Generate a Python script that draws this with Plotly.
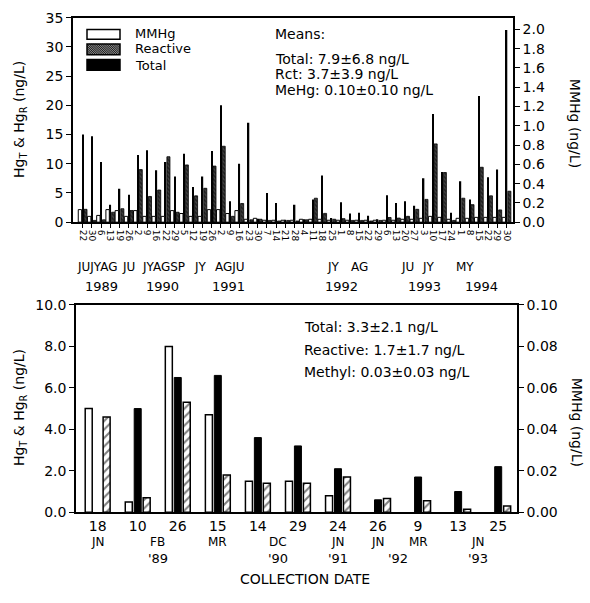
import plotly.graph_objects as go

# ---------------- DATA ----------------
# Top panel: 47 collection dates 1989-1994
top_days = ["22","30","6","13","19","26","2","9","16","22","29","5","12","19","26","2","9","16","23","30",
            "7","14","21","28","4","11","18","25","1","8","15","22","29","6","13","20","27","3","10","17",
            "24","1","8","15","22","29","30"]
top_total = [15.0,14.7,10.3,3.0,5.7,4.7,11.5,12.3,8.9,10.3,7.8,11.7,6.0,7.8,12.2,20.0,3.6,10.0,17.0,0.6,
             5.0,3.3,0.4,3.0,0.5,3.9,8.0,0.7,3.4,1.5,1.6,1.1,0.5,4.6,3.3,3.6,2.8,7.5,18.5,8.6,
             1.6,7.0,3.9,21.6,7.7,9.0,32.9]
top_reactive = [2.2,0.3,0.4,1.7,2.3,2.0,9.0,4.4,5.5,11.2,1.7,9.8,4.5,5.8,9.6,13.0,1.0,3.2,0.4,0.5,
                0.3,0.2,0.3,0.2,0.4,4.1,1.5,0.5,0.6,0.3,0.3,0.2,0.3,0.8,0.7,1.0,2.2,3.9,13.4,8.5,
                0.3,4.1,3.0,9.4,4.5,2.1,5.3]
top_mmhg = [0.13,0.06,0.07,0.13,0.12,0.06,0.12,0.06,0.06,0.06,0.12,0.09,0.06,0.06,0.13,0.13,0.09,0.12,0.03,0.04,
            0.02,0.02,0.02,0.02,0.03,0.03,0.03,0.02,0.02,0.02,0.02,0.02,0.02,0.02,0.02,0.03,0.03,0.04,0.06,0.05,
            0.03,0.04,0.04,0.05,0.05,0.05,0.05]
top_month_labels = ["JUJYAG", "JU", "JYAGSP", "JY", "AGJU", "JY", "AG", "JU", "JY", "MY"]
top_month_pos = [1.6, 5.0, 8.8, 12.8, 16.0, 27.2, 30.0, 35.2, 37.5, 41.5]
top_year_labels = ["1989", "1990", "1991", "1992", "1993", "1994"]
top_year_pos = [2.0, 8.7, 15.8, 28.1, 37.1, 43.3]
top_means = ["Means:", "Total: 7.9±6.8 ng/L", "Rct: 3.7±3.9 ng/L", "MeHg: 0.10±0.10 ng/L"]

# Bottom panel: 11 collection dates 1989-1993
bot_days = ["18", "10", "26", "15", "14", "29", "24", "26", "9", "13", "25"]
bot_mmhg = [0.050, 0.005, 0.080, 0.047, 0.015, 0.015, 0.008, None, None, None, None]
bot_total = [None, 5.0, 6.5, 6.6, 3.6, 3.2, 2.1, 0.6, 1.7, 1.0, 2.2]
bot_reactive = [4.6, 0.7, 5.3, 1.8, 1.4, 1.4, 1.7, 0.66, 0.56, 0.15, 0.3]
bot_month_labels = ["JN", "FB", "MR", "DC", "JN", "JN", "MR", "JN"]
bot_month_pos = [0, 1.5, 3, 4.5, 6, 7, 8, 9.5]
bot_year_labels = ["'89", "'90", "'91", "'92", "'93"]
bot_year_pos = [1.5, 4.5, 6, 7.5, 9.5]
bot_means = ["Total: 3.3±2.1 ng/L", "Reactive: 1.7±1.7 ng/L", "Methyl: 0.03±0.03 ng/L"]

# ---------------- FIGURE ----------------
W, H = 590, 603
FONT = "DejaVu Sans"

def px(x):
    return x / W

def py(y):
    return 1 - y / H

fig = go.Figure()
n_top = len(top_total)
xt = list(range(n_top))
fig.add_trace(go.Bar(x=xt, y=top_mmhg, xaxis="x", yaxis="y2", offset=-0.48, width=0.37,
                     marker=dict(color="white", line=dict(color="black", width=1))))
fig.add_trace(go.Bar(x=xt, y=top_total, xaxis="x", yaxis="y", offset=-0.07, width=0.15,
                     marker=dict(color="black", line=dict(width=0))))
fig.add_trace(go.Bar(x=xt, y=top_reactive, xaxis="x", yaxis="y", offset=0.14, width=0.33,
                     marker=dict(color="white", line=dict(color="black", width=0.8),
                                 pattern=dict(shape="\\", fgcolor="black", bgcolor="#444", size=3, solidity=0.5))))

n_bot = len(bot_days)
xb = list(range(n_bot))
fig.add_trace(go.Bar(x=xb, y=bot_mmhg, xaxis="x2", yaxis="y4", offset=-0.31, width=0.175,
                     marker=dict(color="white", line=dict(color="black", width=1.5))))
fig.add_trace(go.Bar(x=xb, y=bot_total, xaxis="x2", yaxis="y3", offset=-0.087, width=0.175,
                     marker=dict(color="black", line=dict(color="black", width=1))))
fig.add_trace(go.Bar(x=xb, y=bot_reactive, xaxis="x2", yaxis="y3", offset=0.137, width=0.175,
                     marker=dict(color="white", line=dict(color="black", width=1.5),
                                 pattern=dict(shape="/", fgcolor="black", bgcolor="white", size=6, solidity=0.35))))

axcommon = dict(showgrid=False, zeroline=False, showline=True, linecolor="black", linewidth=1.5,
                tickcolor="black", tickfont=dict(family=FONT, size=14, color="black"))

fig.update_layout(
    width=W, height=H, margin=dict(l=0, r=0, t=0, b=0),
    paper_bgcolor="white", plot_bgcolor="white", showlegend=False, barmode="overlay",
    font=dict(family=FONT, color="black"),
    xaxis=dict(domain=[px(73), px(513)], anchor="y", range=[-1.05, 46.7], tickvals=xt, ticktext=top_days,
               tickangle=90, ticks="outside", ticklen=4, mirror=True,
               **{k: v for k, v in axcommon.items() if k != "tickfont"},
               tickfont=dict(family=FONT, size=9, color="black")),
    yaxis=dict(domain=[py(220), py(10)], anchor="x", range=[0, 35], dtick=5, ticks="outside", ticklen=5,
               **axcommon),
    yaxis2=dict(overlaying="y", side="right", anchor="x", range=[0, 2.12], dtick=0.2, tickformat=".1f",
                ticks="outside", ticklen=5, **axcommon),
    xaxis2=dict(domain=[px(76), px(517)], anchor="y3", range=[-0.54, 10.47], tickvals=xb, ticktext=bot_days,
                ticks="", mirror=True, **axcommon),
    yaxis3=dict(domain=[py(518), py(305)], anchor="x2", range=[0, 10], dtick=2, tickformat=".1f",
                ticks="outside", ticklen=5, **axcommon),
    yaxis4=dict(overlaying="y3", side="right", anchor="x2", range=[0, 0.10], dtick=0.02, tickformat=".2f",
                ticks="outside", ticklen=5, **axcommon),
)

ann = []
def txt(x, y, s, size=14, xref="paper", yref="paper", xanchor="center", angle=0):
    ann.append(dict(x=x, y=y, text=s, xref=xref, yref=yref, showarrow=False, xanchor=xanchor,
                    yanchor="middle", textangle=angle, font=dict(family=FONT, size=size, color="black")))

ytitle = "Hg<sub>T</sub> & Hg<sub>R</sub> (ng/L)"
txt(px(20), py(115), ytitle, 14, angle=-90)
txt(px(20), py(411), ytitle, 14, angle=-90)
txt(px(575), py(118), "MMHg (ng/L)", 14, angle=90)
txt(px(577), py(425), "MMHg (ng/L)", 14, angle=90)

# top legend
leg_labels = ["MMHg", "Reactive", "Total"]
leg_y = [26, 42, 59]
for lab, yy in zip(leg_labels, leg_y):
    txt(px(133), py(yy), lab, 13, xanchor="left")
# means text top
for s, yy in zip(top_means, [27, 52, 68, 84]):
    txt(px(273), py(yy), s, 14, xanchor="left")
# bottom means text
for s, yy in zip(bot_means, [328, 351, 374]):
    txt(px(302), py(yy), s, 14, xanchor="left")

for s, p in zip(top_month_labels, top_month_pos):
    txt(p, py(266), s, 12, xref="x")
for s, p in zip(top_year_labels, top_year_pos):
    txt(p, py(286), s, 13, xref="x")
for s, p in zip(bot_month_labels, bot_month_pos):
    txt(p, py(549), s, 12, xref="x2")
for s, p in zip(bot_year_labels, bot_year_pos):
    txt(p, py(566), s, 13, xref="x2")
txt(px(305), py(587), "COLLECTION DATE", 14)

shapes = []
def rect(x0, y0, x1, y1, fill):
    shapes.append(dict(type="rect", xref="paper", yref="paper", x0=px(x0), x1=px(x1), y0=py(y1), y1=py(y0),
                       fillcolor=fill, line=dict(color="black", width=1.5)))
rect(87, 22, 120, 32, "white")
rect(87, 37, 120, 48, "#888")
rect(87, 53, 120, 64, "black")
# hatch lines in reactive legend box
x0b, x1b, y0b, y1b = 87, 120, 37, 48
hh = y1b - y0b
path = ""
s = x0b - hh
while s < x1b:
    t0 = max(0, x0b - s)
    t1 = min(hh, x1b - s)
    if t1 > t0:
        path += "M %.5f %.5f L %.5f %.5f " % (px(s + t0), py(y0b + t0), px(s + t1), py(y0b + t1))
    s += 2.2
shapes.append(dict(type="path", xref="paper", yref="paper", path=path, line=dict(color="black", width=0.8)))

fig.update_layout(annotations=ann, shapes=shapes)

fig.write_html("out.html", config={"displayModeBar": False},
               post_script="document.body.style.margin='0';")
